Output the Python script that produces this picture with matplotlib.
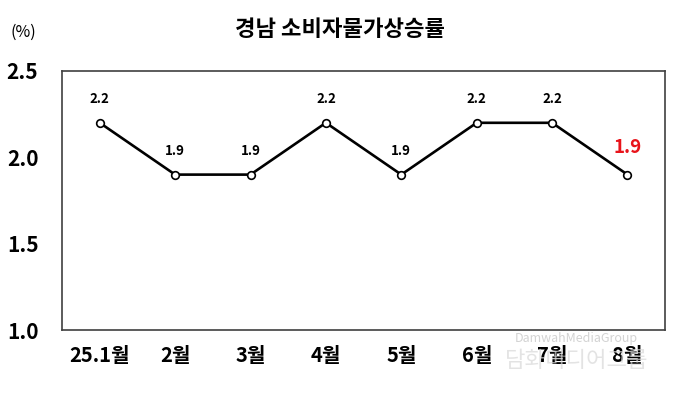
import matplotlib
matplotlib.use("Agg")
import matplotlib.pyplot as plt

plt.rcParams['font.family'] = ['Noto Sans CJK KR', 'DejaVu Sans']

months = ["25.1월", "2월", "3월", "4월", "5월", "6월", "7월", "8월"]
rates = [2.2, 1.9, 1.9, 2.2, 1.9, 2.2, 2.2, 1.9]
yticks = [1.0, 1.5, 2.0, 2.5]

fig = plt.figure(figsize=(6.8, 3.94), dpi=100)
ax = fig.add_axes([0.0912, 0.1624, 0.887, 0.6574])

x = list(range(len(months)))
ax.plot(x, rates, color="black", linewidth=1.9, marker="o", markersize=5.5,
        markerfacecolor="white", markeredgecolor="black", markeredgewidth=1.2, zorder=3)

# value labels, last one highlighted
for i, v in enumerate(rates):
    if i == len(rates) - 1:
        ax.annotate(f"{v:.1f}", (i, v), xytext=(0, 13), textcoords="offset points",
                    ha="center", va="bottom", fontsize=13.5, fontweight="bold", color="#e8141b")
    else:
        ax.annotate(f"{v:.1f}", (i, v), xytext=(0, 12), textcoords="offset points",
                    ha="center", va="bottom", fontsize=9.5, fontweight="semibold", color="black")

ax.set_xlim(-0.5, len(months) - 0.5)
ax.set_ylim(1.0, 2.5)
ax.set_xticks(x)
ax.set_xticklabels(months, fontsize=14.5, fontweight="bold")
ax.set_yticks(yticks)
ax.set_yticklabels([f"{t:.1f}" for t in yticks], fontsize=15, fontweight="bold")
ax.tick_params(length=0)
ax.tick_params(axis="x", pad=11)
ax.tick_params(axis="y", pad=17)
for s in ax.spines.values():
    s.set_color("#404040")
    s.set_linewidth(1.2)

fig.text(0.5, 0.925, "경남 소비자물가상승률", ha="center", va="center",
         fontsize=16, fontweight="bold")
fig.text(0.016, 0.918, "(%)", ha="left", va="center", fontsize=11.5)

# watermark
fig.text(0.848, 0.14, "DamwahMediaGroup", ha="center", va="center",
         fontsize=9, color="#c8c8c8", alpha=0.8)
fig.text(0.848, 0.085, "담화미디어그룹", ha="center", va="center",
         fontsize=16, color="#d8d8d8", alpha=0.7)

fig.savefig("out.png", dpi=100)
